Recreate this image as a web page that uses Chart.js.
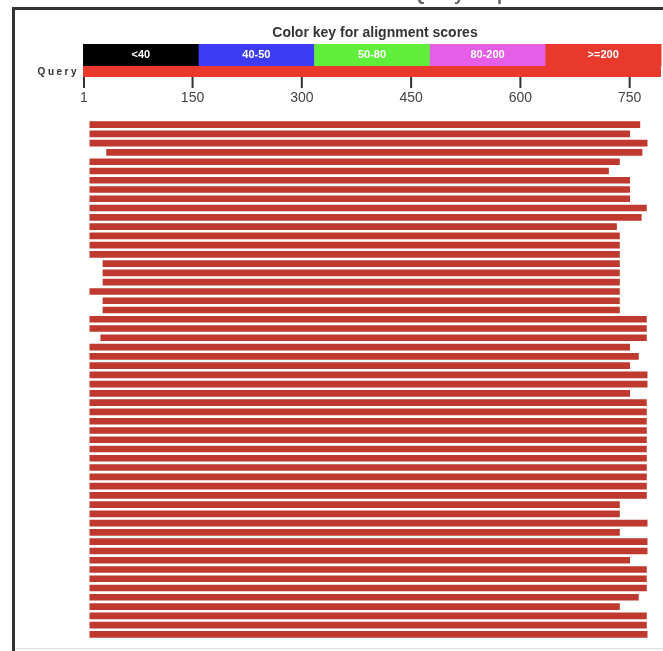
<!DOCTYPE html>
<html>
<head>
<meta charset="utf-8">
<script src="https://cdn.jsdelivr.net/npm/chart.js"></script>
<style>
  body { margin: 0; background: #fff; }
  #wrap { width: 663px; height: 651px; }
</style>
</head>
<body>
<div id="wrap"><canvas id="blastChart" width="663" height="651"></canvas></div>
<script>
let queryLength = 793;
let xTicks = [1, 150, 300, 450, 600, 750];
let keyLabels = ["<40", "40-50", "50-80", "80-200", ">=200"];
let keyColors = ["#000000", "#3c3cf4", "#5fee3a", "#e65ee8", "#e8392c"];

// hit start / end on the query, top to bottom
let hitStarts = [9, 9, 9, 32, 9, 9, 9, 9, 9, 9, 9, 9, 9, 9, 9, 27, 27, 27, 9, 27,
  27, 9, 9, 24, 9, 9, 9, 9, 9, 9, 9, 9, 9, 9, 9, 9, 9, 9, 9, 9,
  9, 9, 9, 9, 9, 9, 9, 9, 9, 9, 9, 9, 9, 9, 9, 9];
let hitEnds = [764, 750, 774, 767, 736, 721, 750, 750, 750, 773, 766, 732, 736, 736, 736, 736, 736, 736, 736, 736,
  736, 773, 773, 773, 750, 762, 750, 774, 774, 750, 773, 773, 773, 773, 773, 773, 773, 773, 773, 773,
  773, 736, 736, 774, 736, 774, 774, 750, 773, 773, 773, 762, 736, 773, 773, 774];

let hitLabels = hitStarts.map((s, i) => "Hit " + (i + 1));

let blastDecor = {
  id: "blastDecor",
  beforeDraw(chart) {
    let ctx = chart.ctx;
    let x = chart.scales.x;
    let left = x.getPixelForValue(1) - 1;
    let right = x.getPixelForValue(queryLength);
    ctx.save();
    ctx.fillStyle = "#ffffff";
    ctx.fillRect(0, 0, chart.width, chart.height);

    // cut-off page title
    ctx.fillStyle = "#666";
    ctx.font = "bold 18px 'Liberation Sans', Arial, sans-serif";
    ctx.textAlign = "center";
    ctx.textBaseline = "middle";
    ctx.fillText("Distribution of 56 Blast Hits on the Query Sequence", 333, -5);

    // frame
    ctx.strokeStyle = "#333";
    ctx.lineWidth = 3;
    ctx.beginPath();
    ctx.moveTo(13.5, 651);
    ctx.lineTo(13.5, 8.5);
    ctx.lineTo(663, 8.5);
    ctx.stroke();
    ctx.strokeStyle = "#ddd";
    ctx.lineWidth = 1;
    ctx.beginPath();
    ctx.moveTo(15, 648.5);
    ctx.lineTo(663, 648.5);
    ctx.stroke();

    // colour key
    ctx.fillStyle = "#333";
    ctx.font = "bold 14px 'Liberation Sans', Arial, sans-serif";
    ctx.fillText("Color key for alignment scores", 375, 33);
    let w = (right - left) / keyLabels.length;
    ctx.font = "bold 11px 'Liberation Sans', Arial, sans-serif";
    keyLabels.forEach((lab, i) => {
      ctx.fillStyle = keyColors[i];
      ctx.fillRect(left + i * w, 44, w + 0.5, 22);
      ctx.fillStyle = "#ffffff";
      ctx.fillText(lab, left + i * w + w / 2, 55);
    });

    // query bar
    ctx.fillStyle = "#e8392c";
    ctx.fillRect(left, 66, right - left, 11);
    ctx.fillStyle = "#333";
    ctx.font = "bold 10px 'Liberation Sans', Arial, sans-serif";
    ctx.textAlign = "right";
    ctx.letterSpacing = "2.5px";
    ctx.fillText("Query", 79, 72);
    ctx.letterSpacing = "0px";

    // query axis ticks
    ctx.strokeStyle = "#333";
    ctx.lineWidth = 2;
    ctx.fillStyle = "#444";
    ctx.font = "14px 'Liberation Sans', Arial, sans-serif";
    ctx.textAlign = "center";
    xTicks.forEach((t) => {
      let px = x.getPixelForValue(t);
      ctx.beginPath();
      ctx.moveTo(px, 77);
      ctx.lineTo(px, 88);
      ctx.stroke();
      ctx.fillText(String(t), px, 98);
    });
    ctx.restore();
  },
};

new Chart(document.querySelector("#blastChart"), {
  type: "bar",
  data: {
    labels: hitLabels,
    datasets: [
      {
        data: hitStarts.map((s, i) => [s, hitEnds[i]]),
        backgroundColor: "#bf392e",
        borderWidth: 0,
        barThickness: 6,
      },
    ],
  },
  options: {
    indexAxis: "y",
    responsive: false,
    animation: false,
    layout: {
      padding: { left: 84, right: 2, top: 120, bottom: 12 },
    },
    scales: {
      x: { type: "linear", min: 1, max: queryLength, display: false },
      y: { display: false },
    },
    plugins: {
      legend: { display: false },
      tooltip: { enabled: false },
    },
  },
  plugins: [blastDecor],
});
</script>
</body>
</html>
